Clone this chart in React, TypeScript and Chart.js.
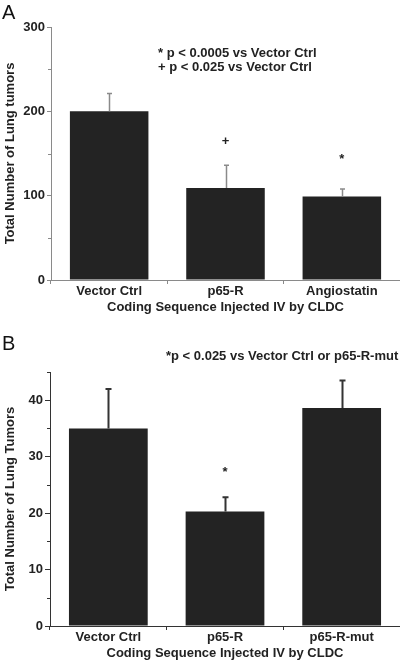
import React, { useEffect, useRef } from "react";
import { Chart, registerables } from "chart.js";

Chart.register(...registerables);

// Panel A data
const catsA = ["Vector Ctrl", "p65-R", "Angiostatin"];
const valsA = [200, 109, 99];
const errA = [21, 27, 9];
const sigA = ["", "+", "*"];
const sigPosA = [null, 160, 139];
const majorTicksA = [0, 100, 200, 300];
const minorTicksA = [50, 150, 250];
const notesA = ["* p < 0.0005 vs Vector Ctrl", "+ p < 0.025 vs Vector Ctrl"];

// Panel B data
const catsB = ["Vector Ctrl", "p65-R", "p65-R-mut"];
const valsB = [35, 20.3, 38.6];
const errB = [7, 2.5, 4.9];
const sigB = ["", "*", ""];
const sigPosB = [null, 26.6, null];
const majorTicksB = [0, 10, 20, 30, 40];
const minorTicksB = [5, 15, 25, 35, 45];
const notesB = ["*p < 0.025 vs Vector Ctrl or p65-R-mut"];

const FONT = "'Liberation Sans', Arial, Helvetica, sans-serif";

type PanelCfg = {
  letter: string;
  letterSize: number;
  letterBaseline: number;
  cats: string[];
  vals: number[];
  errs: number[];
  sig: string[];
  sigPos: (number | null)[];
  major: number[];
  minor: number[];
  max: number;
  notes: string[];
  noteX: number;
  noteY: number[];
  yTitle: string;
  axisColor: string;
  errColor: string;
  errWidth: number;
  capHalf: number;
  yWidth: number;
  yTick: number;
  padTop: number;
  padBottom: number;
  height: number;
};

const panelA: PanelCfg = {
  letter: "A",
  letterSize: 20,
  letterBaseline: 19,
  cats: catsA,
  vals: valsA,
  errs: errA,
  sig: sigA,
  sigPos: sigPosA,
  major: majorTicksA,
  minor: minorTicksA,
  max: 300,
  notes: notesA,
  noteX: 158,
  noteY: [53, 67],
  yTitle: "Total Number of Lung tumors",
  axisColor: "#8a8a8a",
  errColor: "#8a8a8a",
  errWidth: 1.5,
  capHalf: 2.5,
  yWidth: 51,
  yTick: 4,
  padTop: 27,
  padBottom: 15,
  height: 330,
};

const panelB: PanelCfg = {
  letter: "B",
  letterSize: 20,
  letterBaseline: 20,
  cats: catsB,
  vals: valsB,
  errs: errB,
  sig: sigB,
  sigPos: sigPosB,
  major: majorTicksB,
  minor: minorTicksB,
  max: 45,
  notes: notesB,
  noteX: 166,
  noteY: [26],
  yTitle: "Total Number of Lung Tumors",
  axisColor: "#333333",
  errColor: "#333333",
  errWidth: 2,
  capHalf: 3,
  yWidth: 50,
  yTick: 5,
  padTop: 42,
  padBottom: 0,
  height: 331,
};

function Panel({ cfg, top }: { cfg: PanelCfg; top: number }) {
  const ref = useRef<HTMLCanvasElement | null>(null);
  useEffect(() => {
    if (!ref.current) return;
    const overlay = {
      id: "overlay" + cfg.letter,
      afterDatasetsDraw(chart: any) {
        const ctx = chart.ctx;
        const ys = chart.scales.y;
        const meta = chart.getDatasetMeta(0);
        ctx.save();
        // error bars (upper only)
        ctx.strokeStyle = cfg.errColor;
        ctx.lineWidth = cfg.errWidth;
        meta.data.forEach((bar: any, i: number) => {
          const x = Math.round(bar.x) + 0.5;
          const y0 = ys.getPixelForValue(cfg.vals[i]);
          const y1 = ys.getPixelForValue(cfg.vals[i] + cfg.errs[i]);
          ctx.beginPath();
          ctx.moveTo(x, y0);
          ctx.lineTo(x, y1);
          ctx.moveTo(x - cfg.capHalf, y1);
          ctx.lineTo(x + cfg.capHalf, y1);
          ctx.stroke();
        });
        // significance markers
        ctx.fillStyle = "#222";
        ctx.font = `bold 13px ${FONT}`;
        ctx.textAlign = "center";
        ctx.textBaseline = "alphabetic";
        meta.data.forEach((bar: any, i: number) => {
          const p = cfg.sigPos[i];
          if (cfg.sig[i] && p != null) {
            ctx.fillText(cfg.sig[i], bar.x, ys.getPixelForValue(p));
          }
        });
        // minor y ticks
        ctx.strokeStyle = cfg.axisColor;
        ctx.lineWidth = 1;
        const left = chart.chartArea.left;
        cfg.minor.forEach((v) => {
          const y = Math.round(ys.getPixelForValue(v)) + 0.5;
          ctx.beginPath();
          ctx.moveTo(left - 3, y);
          ctx.lineTo(left, y);
          ctx.stroke();
        });
        // notes
        ctx.fillStyle = "#222";
        ctx.font = `bold 13px ${FONT}`;
        ctx.textAlign = "left";
        ctx.textBaseline = "middle";
        cfg.notes.forEach((t, i) => ctx.fillText(t, cfg.noteX, cfg.noteY[i]));
        // panel letter
        ctx.font = `${cfg.letterSize}px ${FONT}`;
        ctx.textBaseline = "alphabetic";
        ctx.fillStyle = "#111";
        ctx.fillText(cfg.letter, 2, cfg.letterBaseline);
        ctx.restore();
      },
    };
    const chart = new Chart(ref.current, {
      type: "bar",
      data: {
        labels: cfg.cats,
        datasets: [
          {
            data: cfg.vals,
            backgroundColor: "#232323",
            borderWidth: 0,
            barPercentage: 0.675,
            categoryPercentage: 1,
          },
        ],
      },
      options: {
        responsive: false,
        animation: false,
        devicePixelRatio: 1,
        layout: { padding: { top: cfg.padTop, bottom: cfg.padBottom, left: 0, right: 0 } },
        plugins: { legend: { display: false }, tooltip: { enabled: false } },
        scales: {
          x: {
            afterFit: (s: any) => {
              s.height = 35;
            },
            grid: {
              display: true,
              drawOnChartArea: false,
              drawTicks: true,
              tickLength: 4,
              color: cfg.axisColor,
              offset: true,
            },
            border: { display: true, color: cfg.axisColor, width: 1 },
            ticks: {
              padding: 0,
              color: "#222",
              font: { family: FONT, size: 13, weight: "bold" },
              maxRotation: 0,
            },
            title: {
              display: true,
              text: "Coding Sequence Injected IV by CLDC",
              color: "#222",
              font: { family: FONT, size: 13, weight: "bold" },
              padding: { top: 0, bottom: 0 },
            },
          },
          y: {
            min: 0,
            max: cfg.max,
            afterFit: (s: any) => {
              s.width = cfg.yWidth;
            },
            afterBuildTicks: (s: any) => {
              s.ticks = cfg.major.map((v) => ({ value: v }));
            },
            grid: {
              display: true,
              drawOnChartArea: false,
              drawTicks: true,
              tickLength: cfg.yTick,
              color: cfg.axisColor,
            },
            border: { display: true, color: cfg.axisColor, width: 1 },
            ticks: {
              padding: 2,
              color: "#222",
              font: { family: FONT, size: 13, weight: "bold" },
            },
            title: {
              display: true,
              text: cfg.yTitle,
              color: "#222",
              font: { family: FONT, size: 13, weight: "bold" },
              padding: { top: 3, bottom: 0 },
            },
          },
        },
      },
      plugins: [overlay],
    } as any);
    return () => chart.destroy();
  }, [cfg]);
  return (
    <div style={{ position: "absolute", left: 0, top, width: 400, height: cfg.height }}>
      <canvas ref={ref} width={400} height={cfg.height} style={{ display: "block" }} />
    </div>
  );
}

export default function App() {
  return (
    <div style={{ position: "absolute", left: 0, top: 0, width: 400, height: 661, background: "#fff" }}>
      <Panel cfg={panelA} top={0} />
      <Panel cfg={panelB} top={330} />
    </div>
  );
}
